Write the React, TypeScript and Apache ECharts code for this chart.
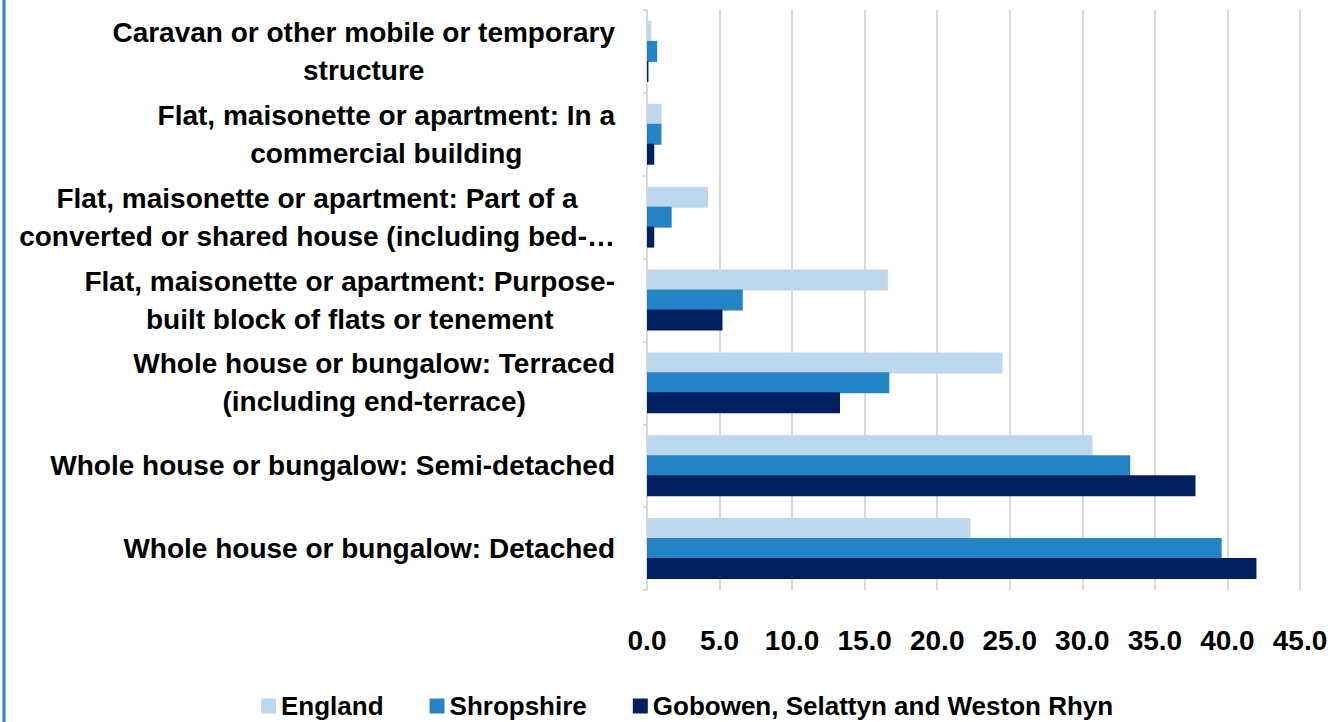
import React, { useEffect, useRef } from "react";
import * as echarts from "echarts";

const categories = [
  "Caravan or other mobile or temporary\nstructure",
  "Flat, maisonette or apartment: In a\ncommercial building",
  "Flat, maisonette or apartment: Part of a\nconverted or shared house (including bed-…",
  "Flat, maisonette or apartment: Purpose-\nbuilt block of flats or tenement",
  "Whole house or bungalow: Terraced\n(including end-terrace)",
  "Whole house or bungalow: Semi-detached",
  "Whole house or bungalow: Detached",
];
const seriesNames = ["England", "Shropshire", "Gobowen, Selattyn and Weston Rhyn"];
const england = [0.3, 1.0, 4.2, 16.6, 24.5, 30.7, 22.3];
const shropshire = [0.7, 1.0, 1.7, 6.6, 16.7, 33.3, 39.6];
const gobowen = [0.1, 0.5, 0.5, 5.2, 13.3, 37.8, 42.0];
const colors = ["#bdd7ee", "#2484c6", "#002060"];
const xTicks = { min: 0, max: 45, interval: 5 };

const FONT = "'Liberation Sans Narrow', 'Liberation Sans', Arial, sans-serif";

export default function App() {
  const ref = useRef<HTMLDivElement>(null);
  useEffect(() => {
    const chart = echarts.init(ref.current!, undefined, { renderer: "svg" });
    const values = [england, shropshire, gobowen];
    chart.setOption({
      animation: false,
      backgroundColor: "#ffffff",
      textStyle: { fontFamily: FONT },
      grid: {
        left: 647,
        right: 38,
        top: 10,
        bottom: 132,
        containLabel: false,
        outerBoundsMode: "none",
      },
      legend: {
        data: seriesNames,
        left: 256,
        top: 688,
        itemWidth: 15,
        itemHeight: 15,
        itemGap: 46,
        icon: "rect",
        textStyle: { fontFamily: FONT, fontWeight: "bold", fontSize: 26, color: "#000" },
      },
      xAxis: {
        type: "value",
        min: xTicks.min,
        max: xTicks.max,
        interval: xTicks.interval,
        axisLine: { show: false },
        axisTick: { show: false },
        splitLine: { show: true, lineStyle: { color: "#d9d9d9", width: 2 } },
        axisLabel: {
          margin: 36,
          fontFamily: FONT,
          fontWeight: "bold",
          fontSize: 28,
          color: "#000",
          formatter: (v: number) => v.toFixed(1),
        },
      },
      yAxis: {
        type: "category",
        inverse: true,
        data: categories,
        axisLine: { show: true, lineStyle: { color: "#d9d9d9", width: 2 } },
        axisTick: { show: true, length: 4, lineStyle: { color: "#d9d9d9", width: 2 } },
        axisLabel: {
          margin: 32,
          align: "right",
          fontFamily: FONT,
          fontWeight: "bold",
          fontSize: 28,
          lineHeight: 38,
          color: "#000",
          formatter: (v: string) =>
            v
              .split("\n")
              .map((l) => "{c|" + l + "}")
              .join("\n"),
          rich: {
            c: {
              align: "center",
              fontFamily: FONT,
              fontWeight: "bold",
              fontSize: 28,
              lineHeight: 38,
              color: "#000",
            },
          },
        },
      },
      series: seriesNames.map((name, i) => ({
        name,
        type: "bar",
        data: values[i],
        barWidth: 21,
        barGap: "-5%",
        itemStyle: { color: colors[i] },
      })),
      graphic: [
        {
          type: "line",
          shape: { x1: 4, y1: 0, x2: 4, y2: 722 },
          style: { stroke: "#2f80c4", lineWidth: 3 },
        },
      ],
    });
    return () => chart.dispose();
  }, []);
  return <div ref={ref} style={{ width: 1338, height: 722, position: "fixed", left: 0, top: 0 }} />;
}
